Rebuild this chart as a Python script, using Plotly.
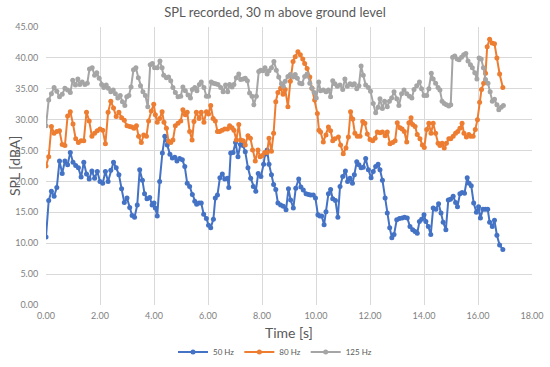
import plotly.graph_objects as go

# ---- 50 Hz ----
t_50 = [0.0, 0.1, 0.2, 0.3, 0.4, 0.5, 0.6, 0.7, 0.8, 0.9,
        1.0, 1.1, 1.2, 1.3, 1.4, 1.5, 1.6, 1.7, 1.8, 1.9,
        2.0, 2.1, 2.2, 2.3, 2.4, 2.5, 2.6, 2.7, 2.8, 2.9,
        3.0, 3.1, 3.19, 3.28, 3.38, 3.47, 3.57, 3.65, 3.74, 3.84,
        3.93, 4.0, 4.05, 4.12, 4.21, 4.31, 4.40, 4.49, 4.59, 4.68,
        4.77, 4.85, 4.95, 5.05, 5.14, 5.23, 5.32, 5.42, 5.51, 5.58,
        5.67, 5.75, 5.84, 5.94, 6.02, 6.10, 6.20, 6.27, 6.35, 6.44,
        6.53, 6.62, 6.72, 6.77, 6.84, 6.93, 7.02, 7.11, 7.20, 7.30,
        7.38, 7.48, 7.58, 7.68, 7.77, 7.86, 7.96, 8.06, 8.11, 8.19,
        8.26, 8.35, 8.43, 8.51, 8.59, 8.69, 8.79, 8.89, 8.98, 9.06,
        9.16, 9.25, 9.36, 9.44, 9.53, 9.63, 9.72, 9.80, 9.90, 9.98,
        10.07, 10.14, 10.21, 10.30, 10.37, 10.46, 10.54, 10.62, 10.72, 10.81,
        10.89, 10.99, 11.09, 11.17, 11.26, 11.35, 11.42, 11.51, 11.59, 11.67,
        11.75, 11.84, 11.94, 12.04, 12.12, 12.21, 12.30, 12.37, 12.46, 12.56,
        12.64, 12.73, 12.81, 12.89, 12.99, 13.09, 13.19, 13.28, 13.38, 13.48,
        13.58, 13.67, 13.75, 13.83, 13.91, 14.0, 14.07, 14.16, 14.25, 14.34,
        14.44, 14.54, 14.63, 14.71, 14.81, 14.90, 14.98, 15.08, 15.17, 15.24,
        15.33, 15.41, 15.50, 15.60, 15.67, 15.75, 15.84, 15.94, 16.02, 16.09,
        16.18, 16.27, 16.36, 16.43, 16.53, 16.61, 16.70, 16.80, 16.92]
spl_50 = [11.0, 16.9, 18.4, 17.6, 19.0, 23.3, 21.3, 23.3, 22.7, 24.7,
          23.1, 22.6, 22.2, 20.7, 23.1, 21.2, 20.4, 21.7, 20.5, 21.6,
          20.0, 19.7, 21.6, 20.0, 21.8, 23.1, 22.2, 21.1, 18.8, 16.6,
          17.3, 15.8, 14.5, 14.2, 16.2, 21.9, 20.2, 18.0, 17.2, 17.4,
          16.2, 16.5, 15.7, 14.4, 20.0, 24.6, 27.3, 25.9, 24.4, 23.8,
          23.9, 23.3, 23.7, 23.5, 22.4, 19.7, 19.2, 17.9, 16.8, 16.3,
          16.5, 16.5, 14.7, 14.0, 12.9, 12.5, 13.9, 17.3, 17.8, 20.6,
          21.2, 20.4, 20.5, 19.0, 24.6, 24.7, 26.3, 24.0, 26.0, 25.8,
          24.8, 22.2, 20.5, 19.2, 18.4, 21.3, 20.8, 22.8, 24.4, 25.1,
          22.8, 21.1, 19.5, 18.7, 16.5, 16.2, 16.0, 15.4, 18.8, 17.0,
          15.7, 18.9, 20.4, 19.1, 18.6, 18.0, 17.9, 17.8, 17.8, 17.3,
          14.6, 14.4, 14.4, 13.0, 15.1, 18.0, 18.7, 17.2, 16.9, 14.2,
          19.2, 20.8, 21.7, 20.0, 20.5, 19.7, 21.1, 23.2, 22.7, 22.2,
          22.3, 23.7, 21.9, 20.6, 21.6, 22.4, 22.8, 21.9, 20.2, 17.3,
          14.9, 12.5, 10.9, 11.4, 13.8, 14.0, 14.1, 14.2, 14.1, 12.7,
          12.2, 11.9, 11.6, 13.5, 13.9, 14.6, 13.5, 12.7, 11.4, 15.7,
          15.5, 16.4, 14.9, 13.4, 12.2, 17.0, 17.1, 17.6, 16.6, 15.9,
          18.0, 18.2, 18.1, 20.6, 19.7, 19.3, 16.5, 15.0, 15.9, 14.1,
          15.5, 15.5, 15.5, 13.4, 12.7, 13.7, 11.3, 9.7, 9.0]

# ---- 80 Hz ----
t_80 = [0.0, 0.1, 0.2, 0.3, 0.4, 0.5, 0.6, 0.7, 0.8, 0.9,
        1.0, 1.1, 1.2, 1.3, 1.4, 1.5, 1.6, 1.7, 1.8, 1.9,
        2.0, 2.1, 2.2, 2.3, 2.4, 2.5, 2.6, 2.7, 2.8, 2.9,
        3.0, 3.1, 3.18, 3.26, 3.35, 3.43, 3.53, 3.62, 3.72, 3.80,
        3.90, 3.99, 4.05, 4.12, 4.21, 4.30, 4.37, 4.46, 4.54, 4.62,
        4.70, 4.79, 4.89, 4.99, 5.07, 5.16, 5.23, 5.32, 5.41, 5.48,
        5.57, 5.67, 5.75, 5.85, 5.94, 6.02, 6.10, 6.19, 6.27, 6.35,
        6.43, 6.52, 6.62, 6.72, 6.80, 6.89, 6.96, 7.05, 7.14, 7.21,
        7.30, 7.38, 7.48, 7.57, 7.65, 7.75, 7.85, 7.93, 8.01, 8.10,
        8.19, 8.26, 8.35, 8.43, 8.51, 8.59, 8.69, 8.78, 8.86, 8.96,
        9.05, 9.15, 9.23, 9.33, 9.42, 9.51, 9.58, 9.67, 9.77, 9.85,
        9.95, 10.05, 10.11, 10.17, 10.27, 10.37, 10.46, 10.54, 10.62, 10.70,
        10.83, 10.91, 11.01, 11.11, 11.20, 11.28, 11.36, 11.44, 11.53, 11.63,
        11.73, 11.81, 11.90, 12.00, 12.10, 12.19, 12.27, 12.37, 12.46, 12.56,
        12.64, 12.74, 12.84, 12.93, 13.01, 13.11, 13.19, 13.27, 13.36, 13.44,
        13.52, 13.58, 13.67, 13.75, 13.85, 13.94, 14.01, 14.10, 14.18, 14.26,
        14.34, 14.43, 14.52, 14.59, 14.67, 14.75, 14.83, 14.92, 14.99, 15.08,
        15.17, 15.25, 15.33, 15.41, 15.48, 15.57, 15.66, 15.73, 15.82, 15.90,
        15.98, 16.06, 16.13, 16.21, 16.28, 16.34, 16.43, 16.52, 16.61, 16.70,
        16.80, 16.92]
spl_80 = [22.5, 24.0, 28.9, 27.8, 28.1, 28.2, 26.0, 25.8, 30.6, 31.3,
          29.3, 26.9, 26.3, 26.6, 26.6, 31.2, 29.8, 27.3, 27.8, 28.2,
          28.5, 28.3, 26.1, 31.2, 33.0, 31.9, 30.5, 31.2, 30.3, 29.9,
          29.0, 28.9, 28.8, 28.6, 29.0, 27.3, 26.3, 27.5, 27.3, 29.8,
          31.4, 32.5, 30.8, 29.6, 30.2, 31.3, 29.6, 28.6, 26.5, 26.3,
          26.7, 29.0, 29.4, 29.8, 31.6, 30.8, 31.2, 28.1, 26.7, 29.7,
          31.2, 30.2, 31.2, 29.6, 31.3, 30.9, 32.3, 30.2, 29.8, 28.1,
          28.1, 28.3, 28.5, 28.5, 29.0, 28.7, 28.3, 26.7, 29.2, 26.7,
          26.6, 25.9, 27.4, 27.0, 25.1, 23.3, 25.1, 24.0, 24.2, 24.7,
          24.7, 27.0, 24.9, 27.8, 32.9, 34.4, 35.1, 34.1, 34.9, 32.1,
          36.2, 39.4, 40.2, 41.0, 40.5, 39.8, 39.1, 38.3, 36.9, 35.1,
          33.2, 31.0, 28.3, 28.0, 26.4, 27.5, 28.8, 28.2, 26.6, 26.9,
          27.2, 25.9, 24.5, 25.4, 27.2, 31.3, 30.1, 27.8, 27.3, 27.3,
          29.7, 29.4, 27.7, 26.8, 26.6, 27.0, 28.0, 27.9, 28.0, 27.4,
          28.0, 26.1, 26.3, 26.6, 29.5, 28.7, 28.5, 28.1, 26.4, 29.5,
          30.3, 29.2, 28.9, 27.6, 26.9, 25.9, 25.5, 28.4, 29.4, 27.8,
          29.4, 27.8, 26.2, 25.8, 26.2, 25.4, 26.2, 26.9, 26.9, 27.3,
          27.8, 28.1, 28.6, 29.4, 27.8, 27.2, 27.6, 27.3, 27.3, 28.4,
          30.0, 32.8, 34.9, 35.9, 37.5, 41.8, 43.0, 42.4, 42.3, 40.0,
          37.4, 35.2]

# ---- 125 Hz ----
t_125 = [0.0, 0.1, 0.2, 0.3, 0.4, 0.5, 0.6, 0.7, 0.8, 0.9,
         0.99, 1.09, 1.18, 1.25, 1.34, 1.44, 1.53, 1.61, 1.71, 1.80,
         1.88, 1.97, 2.06, 2.14, 2.23, 2.31, 2.40, 2.49, 2.57, 2.66,
         2.75, 2.83, 2.92, 2.99, 3.07, 3.15, 3.24, 3.33, 3.42, 3.50,
         3.59, 3.68, 3.77, 3.86, 3.94, 4.02, 4.12, 4.22, 4.30, 4.36,
         4.46, 4.54, 4.62, 4.70, 4.79, 4.89, 4.99, 5.07, 5.16, 5.26,
         5.35, 5.42, 5.51, 5.59, 5.68, 5.75, 5.85, 5.94, 6.02, 6.12,
         6.20, 6.28, 6.37, 6.47, 6.56, 6.65, 6.73, 6.80, 6.89, 6.96,
         7.05, 7.14, 7.21, 7.30, 7.38, 7.46, 7.54, 7.63, 7.70, 7.79,
         7.88, 7.95, 8.04, 8.11, 8.19, 8.26, 8.35, 8.44, 8.53, 8.62,
         8.72, 8.79, 8.86, 8.96, 9.05, 9.15, 9.23, 9.31, 9.40, 9.48,
         9.58, 9.67, 9.77, 9.85, 9.93, 10.01, 10.10, 10.17, 10.27, 10.37,
         10.46, 10.54, 10.62, 10.70, 10.79, 10.89, 10.99, 11.07, 11.16, 11.26,
         11.35, 11.42, 11.51, 11.59, 11.67, 11.75, 11.84, 11.94, 12.02, 12.12,
         12.21, 12.30, 12.37, 12.46, 12.54, 12.64, 12.72, 12.80, 12.89, 12.99,
         13.07, 13.17, 13.26, 13.36, 13.46, 13.55, 13.63, 13.73, 13.83, 13.91,
         14.00, 14.10, 14.18, 14.27, 14.34, 14.43, 14.52, 14.59, 14.67, 14.75,
         14.83, 14.92, 14.99, 15.06, 15.14, 15.23, 15.30, 15.39, 15.47, 15.55,
         15.63, 15.72, 15.79, 15.88, 15.96, 16.04, 16.12, 16.20, 16.28, 16.37,
         16.45, 16.53, 16.61, 16.70, 16.77, 16.86, 16.94]
spl_125 = [29.0, 33.2, 34.2, 35.2, 34.6, 33.7, 34.1, 35.1, 34.8, 34.4,
           36.4, 35.6, 36.6, 35.7, 36.1, 35.7, 35.9, 38.2, 38.4, 37.2,
           37.6, 36.7, 35.7, 35.2, 35.6, 35.1, 34.5, 34.8, 34.2, 33.5,
           33.9, 32.9, 32.3, 33.7, 33.9, 35.3, 38.1, 38.4, 36.8, 35.5,
           34.5, 33.9, 32.1, 38.9, 39.1, 38.4, 38.4, 39.5, 38.4, 37.2,
           36.8, 36.9, 36.3, 35.2, 34.4, 33.7, 33.8, 35.3, 34.7, 34.0,
           33.5, 34.9, 35.2, 34.7, 35.7, 36.1, 35.2, 33.8, 33.8, 36.1,
           35.9, 35.8, 35.7, 35.2, 34.5, 35.6, 34.5, 35.7, 35.3, 35.7,
           36.8, 37.4, 36.5, 36.6, 36.7, 36.3, 34.3, 33.8, 32.4, 33.8,
           37.8, 38.0, 37.9, 38.4, 37.4, 37.9, 38.4, 39.4, 38.0, 36.9,
           35.8, 35.4, 36.2, 37.0, 37.3, 36.9, 37.3, 36.7, 35.9, 35.8,
           37.0, 37.4, 35.9, 35.1, 34.4, 33.5, 36.1, 34.7, 34.8, 34.5,
           34.8, 33.7, 36.3, 35.8, 35.4, 35.6, 34.9, 36.6, 35.4, 35.8,
           35.6, 35.8, 35.0, 35.5, 38.7, 37.2, 35.6, 35.2, 34.6, 32.6,
           31.1, 32.0, 33.4, 31.8, 33.0, 32.1, 33.0, 33.5, 34.5, 33.4,
           32.3, 34.2, 34.8, 34.2, 33.8, 33.5, 34.9, 35.5, 36.1, 35.0,
           33.9, 33.9, 35.0, 37.5, 36.6, 35.9, 35.2, 34.8, 33.0, 32.6,
           32.4, 32.2, 32.4, 40.1, 40.3, 39.8, 39.7, 40.1, 40.5, 40.7,
           39.5, 38.9, 38.4, 37.6, 36.6, 40.0, 39.8, 38.4, 36.5, 35.9,
           34.5, 33.0, 33.3, 32.4, 31.6, 32.0, 32.3]

series_names = ["50 Hz", "80 Hz", "125 Hz"]
series_colors = ["#4472C4", "#ED7D31", "#A5A5A5"]
x_ticks = [0, 2, 4, 6, 8, 10, 12, 14, 16, 18]
y_ticks = [0, 5, 10, 15, 20, 25, 30, 35, 40, 45]

FONT = "Lato, 'Open Sans', sans-serif"
TXT = "#595959"

W, H = 550, 367
L, R, T, B = 46, 18, 27, 62
PW, PH = W - L - R, H - T - B

fig = go.Figure()
for name, tt, vv, col in zip(series_names, [t_50, t_80, t_125],
                             [spl_50, spl_80, spl_125], series_colors):
    n = min(len(tt), len(vv))
    fig.add_trace(go.Scatter(
        x=tt[:n], y=vv[:n], mode="lines+markers", name=name,
        line=dict(color=col, width=2),
        marker=dict(color=col, size=5, symbol="circle"),
    ))

fig.update_layout(
    width=W, height=H,
    margin=dict(l=L, r=R, t=T, b=B, autoexpand=False),
    paper_bgcolor="white", plot_bgcolor="white",
    font=dict(family=FONT, color=TXT, size=9),
    title=dict(text="SPL recorded, 30 m above ground level",
               x=0.5, xref="container", xanchor="center",
               y=1 - 12 / H, yref="container", yanchor="middle",
               font=dict(size=13, color=TXT, family=FONT)),
    showlegend=True,
    legend=dict(orientation="h", xref="container", x=0.5, xanchor="center",
                yref="container", y=1 - 352 / H, yanchor="middle",
                font=dict(size=8, color=TXT), itemwidth=30,
                bgcolor="rgba(0,0,0,0)"),
    annotations=[
        dict(text="Time [s]", xref="paper", yref="paper",
             x=0.5, y=-(332 - (H - B)) / PH, xanchor="center", yanchor="middle",
             showarrow=False, font=dict(size=14, color=TXT, family=FONT)),
        dict(text="SPL [dBA]", xref="paper", yref="paper",
             x=-(L - 14) / PW, y=0.5, xanchor="center", yanchor="middle",
             textangle=-90, showarrow=False,
             font=dict(size=14, color=TXT, family=FONT)),
    ],
)
fig.update_xaxes(range=[0, 18], tickvals=x_ticks, tickformat=".2f",
                 showgrid=True, gridcolor="#D9D9D9", gridwidth=1,
                 zeroline=False, showline=False,
                 ticks="outside", ticklen=2, tickcolor="rgba(0,0,0,0)",
                 automargin=False, ticklabeloverflow="allow",
                 tickfont=dict(size=9, color="#7F7F7F"))
fig.update_yaxes(range=[0, 45], tickvals=y_ticks, tickformat=".2f",
                 showgrid=True, gridcolor="#D9D9D9", gridwidth=1,
                 zeroline=False, showline=False,
                 ticks="outside", ticklen=5, tickcolor="rgba(0,0,0,0)",
                 automargin=False, ticklabeloverflow="allow",
                 tickfont=dict(size=9, color="#7F7F7F"))

fig.write_html("out.html", config={"displayModeBar": False},
               post_script="document.body.style.margin='0px';")
